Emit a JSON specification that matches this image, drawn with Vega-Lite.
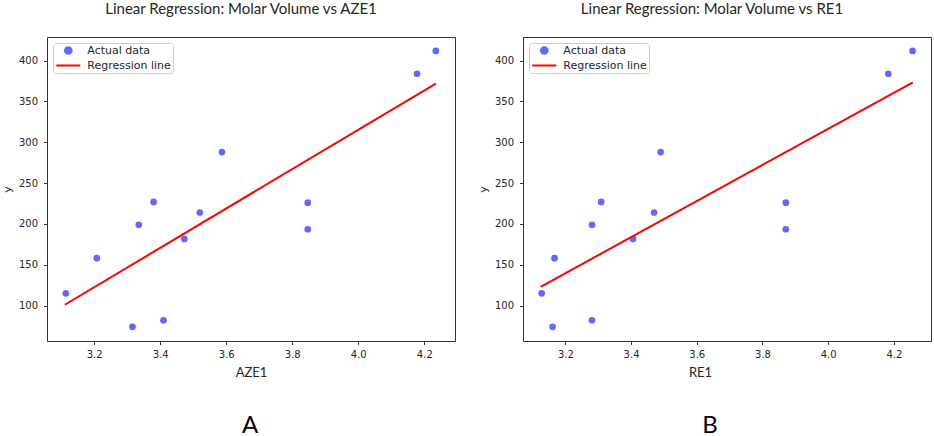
{
  "$schema": "https://vega.github.io/schema/vega-lite/v6.json",
  "padding": {"left": 0, "top": 1, "right": 0, "bottom": 0},
  "autosize": {"type": "pad"},
  "background": "white",
  "spacing": 20,
  "datasets": {
    "points": [
      {"AZE1": 4.235, "RE1": 4.257, "molar_volume": 412},
      {"AZE1": 4.178, "RE1": 4.183, "molar_volume": 384},
      {"AZE1": 3.587, "RE1": 3.49, "molar_volume": 288},
      {"AZE1": 3.38, "RE1": 3.309, "molar_volume": 227},
      {"AZE1": 3.847, "RE1": 3.871, "molar_volume": 226},
      {"AZE1": 3.52, "RE1": 3.47, "molar_volume": 214},
      {"AZE1": 3.335, "RE1": 3.281, "molar_volume": 199},
      {"AZE1": 3.847, "RE1": 3.871, "molar_volume": 193.5},
      {"AZE1": 3.473, "RE1": 3.406, "molar_volume": 181.6},
      {"AZE1": 3.208, "RE1": 3.167, "molar_volume": 158},
      {"AZE1": 3.114, "RE1": 3.128, "molar_volume": 115},
      {"AZE1": 3.41, "RE1": 3.281, "molar_volume": 82},
      {"AZE1": 3.316, "RE1": 3.161, "molar_volume": 74}
    ],
    "lineA": [
      {"AZE1": 3.111, "molar_volume": 101},
      {"AZE1": 4.235, "molar_volume": 372}
    ],
    "lineB": [
      {"RE1": 3.125, "molar_volume": 123},
      {"RE1": 4.258, "molar_volume": 373.5}
    ]
  },
  "config": {
    "view": {"stroke": "#333333", "strokeWidth": 1},
    "axis": {
      "domain": false,
      "grid": false,
      "tickColor": "#333333",
      "tickSize": 3.5,
      "tickWidth": 1,
      "labelFont": "DejaVu Sans",
      "labelFontSize": 10,
      "labelColor": "#262626",
      "titleFont": "Lato",
      "titleFontWeight": "normal",
      "titleColor": "#262626"
    },
    "title": {"font": "Lato", "fontWeight": "normal", "color": "#262626"},
    "legend": {
      "orient": "top-left",
      "offset": 6,
      "padding": 2,
      "symbolSize": 169,
      "symbolOffset": 7.8,
      "labelOffset": 13.5,
      "labelFont": "DejaVu Sans",
      "labelFontSize": 11,
      "labelColor": "#262626",
      "strokeColor": "#cccccc",
      "fillColor": "rgba(255,255,255,0.8)",
      "cornerRadius": 3,
      "rowPadding": 1
    }
  },
  "resolve": {"scale": {"color": "independent"}, "legend": {"color": "independent"}},
  "hconcat": [
    {
      "title": {"text": "A", "orient": "bottom", "anchor": "middle", "fontSize": 24, "font": "Lato", "color": "#000000", "frame": "group", "offset": 34, "dx": 203},
      "resolve": {"scale": {"color": "independent"}, "legend": {"color": "independent"}},
      "vconcat": [
        {
          "width": 408,
          "height": 304,
          "title": {"text": "Linear Regression: Molar Volume vs AZE1", "anchor": "middle", "fontSize": 15, "offset": 8, "baseline": "alphabetic", "frame": "group", "dx": -10},
          "layer": [
            {
              "data": {"name": "points"},
              "mark": {"type": "point", "filled": true, "size": 45, "opacity": 0.6},
              "encoding": {
                "x": {"field": "AZE1", "type": "quantitative", "scale": {"domain": [3.057, 4.293], "nice": false, "zero": false}, "axis": {"values": [3.2, 3.4, 3.6, 3.8, 4.0, 4.2], "format": ".1f", "title": "AZE1", "titleFontSize": 13, "labelPadding": 5, "titlePadding": 7}},
                "y": {"field": "molar_volume", "type": "quantitative", "scale": {"domain": [56.6, 429], "nice": false, "zero": false}, "axis": {"values": [100, 150, 200, 250, 300, 350, 400], "title": "y", "titleFont": "DejaVu Sans", "titleFontSize": 11, "labelPadding": 6, "titlePadding": 6}},
                "color": {"datum": "Actual data", "type": "nominal", "scale": {"domain": ["Actual data", "Regression line"], "range": ["blue", "red"]},
                  "legend": {"title": null, "encoding": {"symbols": {
                    "shape": {"value": {"expr": "datum.value === 'Actual data' ? 'circle' : 'M-3,0H3'"}},
                    "size": {"value": {"expr": "datum.value === 'Actual data' ? 45 : 64"}},
                    "fill": {"value": {"expr": "datum.value === 'Actual data' ? 'blue' : 'transparent'"}},
                    "opacity": {"value": {"expr": "datum.value === 'Actual data' ? 0.6 : 1"}},
                    "stroke": {"value": {"expr": "datum.value === 'Actual data' ? 'transparent' : 'red'"}},
                    "strokeWidth": {"value": 2}
                  }}}
                }
              }
            },
            {
              "data": {"name": "lineA"},
              "mark": {"type": "line", "strokeWidth": 2},
              "encoding": {
                "x": {"field": "AZE1", "type": "quantitative"},
                "y": {"field": "molar_volume", "type": "quantitative"},
                "color": {"datum": "Regression line", "type": "nominal"}
              }
            }
          ]
        }
      ]
    },
    {
      "title": {"text": "B", "orient": "bottom", "anchor": "middle", "fontSize": 24, "font": "Lato", "color": "#000000", "frame": "group", "offset": 34, "dx": 187},
      "resolve": {"scale": {"color": "independent"}, "legend": {"color": "independent"}},
      "vconcat": [
        {
          "width": 408,
          "height": 304,
          "title": {"text": "Linear Regression: Molar Volume vs RE1", "anchor": "middle", "fontSize": 15, "offset": 8, "baseline": "alphabetic", "frame": "group", "dx": -15},
          "layer": [
            {
              "data": {"name": "points"},
              "mark": {"type": "point", "filled": true, "size": 45, "opacity": 0.6},
              "encoding": {
                "x": {"field": "RE1", "type": "quantitative", "scale": {"domain": [3.071, 4.313], "nice": false, "zero": false}, "axis": {"values": [3.2, 3.4, 3.6, 3.8, 4.0, 4.2], "format": ".1f", "title": "RE1", "titleFontSize": 13, "labelPadding": 5, "titlePadding": 7, "titleX": 177}},
                "y": {"field": "molar_volume", "type": "quantitative", "scale": {"domain": [56.6, 429], "nice": false, "zero": false}, "axis": {"values": [100, 150, 200, 250, 300, 350, 400], "title": "y", "titleFont": "DejaVu Sans", "titleFontSize": 11, "labelPadding": 6, "titlePadding": 6}},
                "color": {"datum": "Actual data", "type": "nominal", "scale": {"domain": ["Actual data", "Regression line"], "range": ["blue", "red"]},
                  "legend": {"title": null, "encoding": {"symbols": {
                    "shape": {"value": {"expr": "datum.value === 'Actual data' ? 'circle' : 'M-3,0H3'"}},
                    "size": {"value": {"expr": "datum.value === 'Actual data' ? 45 : 64"}},
                    "fill": {"value": {"expr": "datum.value === 'Actual data' ? 'blue' : 'transparent'"}},
                    "opacity": {"value": {"expr": "datum.value === 'Actual data' ? 0.6 : 1"}},
                    "stroke": {"value": {"expr": "datum.value === 'Actual data' ? 'transparent' : 'red'"}},
                    "strokeWidth": {"value": 2}
                  }}}
                }
              }
            },
            {
              "data": {"name": "lineB"},
              "mark": {"type": "line", "strokeWidth": 2},
              "encoding": {
                "x": {"field": "RE1", "type": "quantitative"},
                "y": {"field": "molar_volume", "type": "quantitative"},
                "color": {"datum": "Regression line", "type": "nominal"}
              }
            }
          ]
        }
      ]
    }
  ]
}
